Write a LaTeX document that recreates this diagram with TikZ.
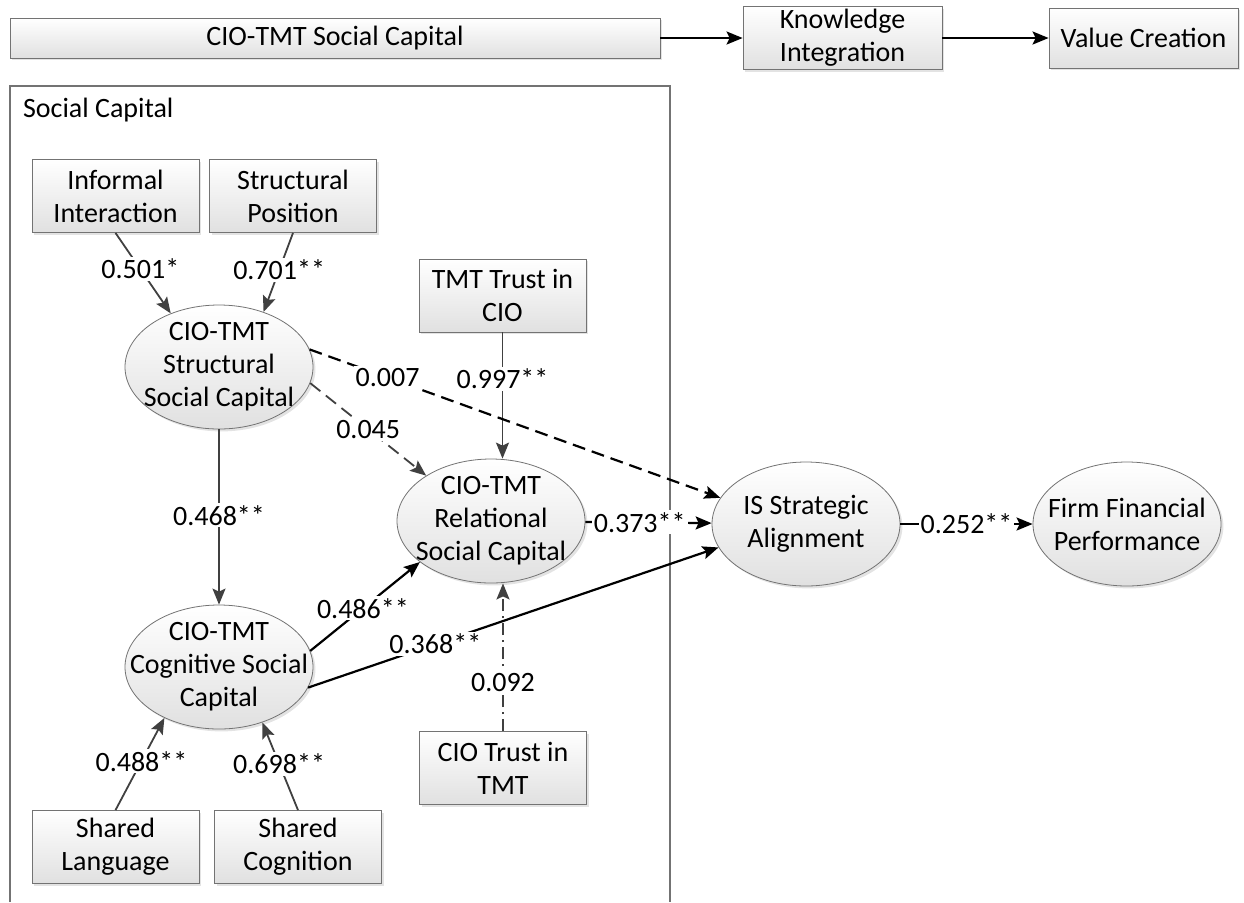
\documentclass[tikz,border=0pt]{standalone}
\usepackage{fontspec}
\setmainfont{Carlito}
\usepackage{tikz}
\usetikzlibrary{shapes.geometric, shadows}
\usetikzlibrary{arrows.meta}

\newcommand{\dgfont}{\fontsize{14}{16.5}\selectfont}

\begin{document}
\begin{tikzpicture}[->,>={Stealth[length=8pt,width=6.5pt,inset=1.5pt]},
                    x=0.5pt, y=-0.5pt]
  \tikzstyle{every node}=[font=\dgfont]
  \tikzstyle{ind}=[rectangle, draw=black!55, top color=white, bottom color=black!12,
                   drop shadow={shadow xshift=1.2pt, shadow yshift=-1.2pt, fill=black!22},
                   minimum width=83.5pt, minimum height=36.5pt, align=center, inner sep=1pt]
  \tikzstyle{lat}=[ellipse, draw=black!55, top color=white, bottom color=black!12,
                   drop shadow={shadow xshift=1.2pt, shadow yshift=-1.2pt, fill=black!22},
                   minimum width=94pt, minimum height=62pt, inner xsep=-25pt, inner ysep=-10pt,
                   align=center]
  \tikzstyle{coef}=[fill=white, inner sep=1pt]
  \tikzstyle{link}=[draw=black!75, line width=0.9pt]
  \tikzstyle{mainlink}=[draw=black, line width=1.1pt]
  \tikzstyle{dashln}=[dash pattern=on 6.5pt off 3.5pt]
  \tikzstyle{dashdotln}=[dash pattern=on 6pt off 2.5pt on 1pt off 2.5pt]

  \useasboundingbox (0,0) rectangle (1244,902);

  % frame
  \draw[-, draw=black!55, line width=0.6pt] (10,902) -- (10,86) -- (670,86) -- (670,902);
  \node[anchor=west] (frame) at (16,110) {Social Capital};

  % top row
  \node[ind, minimum width=325pt, minimum height=20pt] (sc) at (335,38) {CIO-TMT Social Capital};
  \node[ind, minimum width=99.5pt, minimum height=31.5pt] (ki) at (842.5,38) {Knowledge\\Integration};
  \node[ind, minimum width=94.5pt, minimum height=30pt] (vc) at (1143.5,38) {Value Creation};

  % indicators
  \node[ind] (inf)  at (115.5,196) {Informal\\Interaction};
  \node[ind] (pos)  at (293,196)   {Structural\\Position};
  \node[ind] (tmt)  at (502.5,295.5) {TMT Trust in\\CIO};
  \node[ind] (cio)  at (503,768)   {CIO Trust in\\TMT};
  \node[ind] (lang) at (115.5,847) {Shared\\Language};
  \node[ind] (cogn) at (298,847)   {Shared\\Cognition};

  % constructs
  \node[lat] (str) at (219,367)  {CIO-TMT\\Structural\\Social Capital};
  \node[lat] (rel) at (491,521)  {CIO-TMT\\Relational\\Social Capital};
  \node[lat] (cog) at (219,667)  {CIO-TMT\\Cognitive Social\\Capital};
  \node[lat] (isa) at (806,524)  {IS Strategic\\Alignment};
  \node[lat] (ffp) at (1127,524) {Firm Financial\\Performance};

  \path (sc) edge[mainlink] (ki)
        (ki) edge[mainlink] (vc);

  \path (inf.south)  edge[link] node[coef,pos=.45] {0.501*} (str.132)
        (pos.south)  edge[link] node[coef,pos=.47] {0.701**} (str.51)
        (str.south)  edge[link] node[coef,pos=.49] {0.468**} (cog.north)
        (lang.north) edge[link] node[coef,pos=.53] {0.488**} (cog.223)
        (cogn.north) edge[link] node[coef,pos=.53] {0.698**} (cog.308)
        (tmt.south)  edge[link] node[coef,pos=.37] {0.997**} (tmt.south |- rel.north)
        (cio.north)  edge[link,dashdotln] node[coef,pos=.33] {0.092} (cio.north |- rel.south)
        (str.350)    edge[link,dashln] node[coef,pos=.5] {0.045} (rel.145);

  \path (str.11)  edge[mainlink,dashln] node[coef,pos=.19] {0.007} (isa.163)
        (cog.10)  edge[mainlink] node[coef,pos=.48] {0.486**} (rel.210)
        (cog.347) edge[mainlink] node[coef,pos=.31] {0.368**} (isa.195)
        (rel)     edge[mainlink] node[coef,pos=.43] {0.373**} (isa)
        (isa)     edge[mainlink] node[coef,pos=.5] {0.252**} (ffp);
\end{tikzpicture}
\end{document}
